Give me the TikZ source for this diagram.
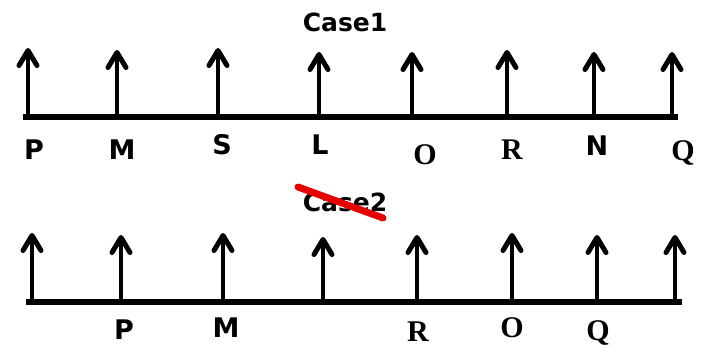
\documentclass[tikz,border=0pt]{standalone}
\usepackage{fontspec}
\setmainfont{DejaVu Sans}
\newfontfamily\serifbold{Liberation Serif}
\usetikzlibrary{positioning, arrows.meta}

\begin{document}
\begin{tikzpicture}[
	x=1pt, y=-1pt,
	>={Straight Barb[length=15pt, width=18pt, line width=5pt, round]},
	% Define styles for the lines
	flow/.style={->, line width=4.5pt, line join=round},
	axis/.style={line width=6pt},
	strike/.style={draw=red!90!black, line width=7pt, line cap=round},
	% Define styles for the texts
	lbl/.style={font=\fontsize{27}{30}\selectfont\bfseries, anchor=base, inner sep=0pt},
	lbl_serif/.style={font=\fontsize{30}{33}\selectfont\serifbold\bfseries, anchor=base, inner sep=0pt},
	title_text/.style={font=\fontsize{25}{29}\selectfont\bfseries, anchor=base, inner sep=0pt}
	]
	
	\useasboundingbox (0,0) rectangle (705,347);
	
	% --- 1. CASE 1 ---
	\node[title_text] (case_one) at (345,32) {Case1};
	
	\coordinate (a_start) at (23,117);
	\coordinate (a_end) at (678,117);
	\draw[axis] (a_start) -- (a_end);
	
	\coordinate (a1) at (28,117);  \coordinate (a1tip) at (28,48);
	\coordinate (a2) at (117,117); \coordinate (a2tip) at (117,50);
	\coordinate (a3) at (218,117); \coordinate (a3tip) at (218,48);
	\coordinate (a4) at (319,117); \coordinate (a4tip) at (319,52);
	\coordinate (a5) at (412,117); \coordinate (a5tip) at (412,52);
	\coordinate (a6) at (507,117); \coordinate (a6tip) at (507,50);
	\coordinate (a7) at (594,117); \coordinate (a7tip) at (594,52);
	\coordinate (a8) at (672,117); \coordinate (a8tip) at (672,52);
	
	\draw[flow] (a1) -- (a1tip);
	\draw[flow] (a2) -- (a2tip);
	\draw[flow] (a3) -- (a3tip);
	\draw[flow] (a4) -- (a4tip);
	\draw[flow] (a5) -- (a5tip);
	\draw[flow] (a6) -- (a6tip);
	\draw[flow] (a7) -- (a7tip);
	\draw[flow] (a8) -- (a8tip);
	
	\node[lbl] (a_P) at (34,160) {P};
	\node[lbl] (a_M) at (122,160) {M};
	\node[lbl] (a_S) at (222,155) {S};
	\node[lbl] (a_L) at (320,155) {L};
	\node[lbl_serif] (a_O) at (425,165) {O};
	\node[lbl_serif] (a_R) at (512,160) {R};
	\node[lbl] (a_N) at (597,156) {N};
	\node[lbl_serif] (a_Q) at (683,161) {Q};
	
	% --- 2. CASE 2 ---
	\node[title_text] (case_two) at (345,212) {Case2};
	\coordinate (cut_start) at (298,187);
	\coordinate (cut_end) at (383,218);
	\draw[strike] (cut_start) -- (cut_end);
	
	\coordinate (b_start) at (26,302);
	\coordinate (b_end) at (682,302);
	\draw[axis] (b_start) -- (b_end);
	
	\coordinate (b1) at (32,302);  \coordinate (b1tip) at (32,233);
	\coordinate (b2) at (121,302); \coordinate (b2tip) at (121,235);
	\coordinate (b3) at (223,302); \coordinate (b3tip) at (223,233);
	\coordinate (b4) at (323,302); \coordinate (b4tip) at (323,237);
	\coordinate (b5) at (417,302); \coordinate (b5tip) at (417,235);
	\coordinate (b6) at (512,302); \coordinate (b6tip) at (512,233);
	\coordinate (b7) at (597,302); \coordinate (b7tip) at (597,235);
	\coordinate (b8) at (675,302); \coordinate (b8tip) at (675,235);
	
	\draw[flow] (b1) -- (b1tip);
	\draw[flow] (b2) -- (b2tip);
	\draw[flow] (b3) -- (b3tip);
	\draw[flow] (b4) -- (b4tip);
	\draw[flow] (b5) -- (b5tip);
	\draw[flow] (b6) -- (b6tip);
	\draw[flow] (b7) -- (b7tip);
	\draw[flow] (b8) -- (b8tip);
	
	\node[lbl] (b_P) at (124,340) {P};
	\node[lbl] (b_M) at (226,338) {M};
	\node[lbl_serif] (b_R) at (418,342) {R};
	\node[lbl_serif] (b_O) at (512,338) {O};
	\node[lbl_serif] (b_Q) at (598,341) {Q};
	
\end{tikzpicture}
\end{document}
